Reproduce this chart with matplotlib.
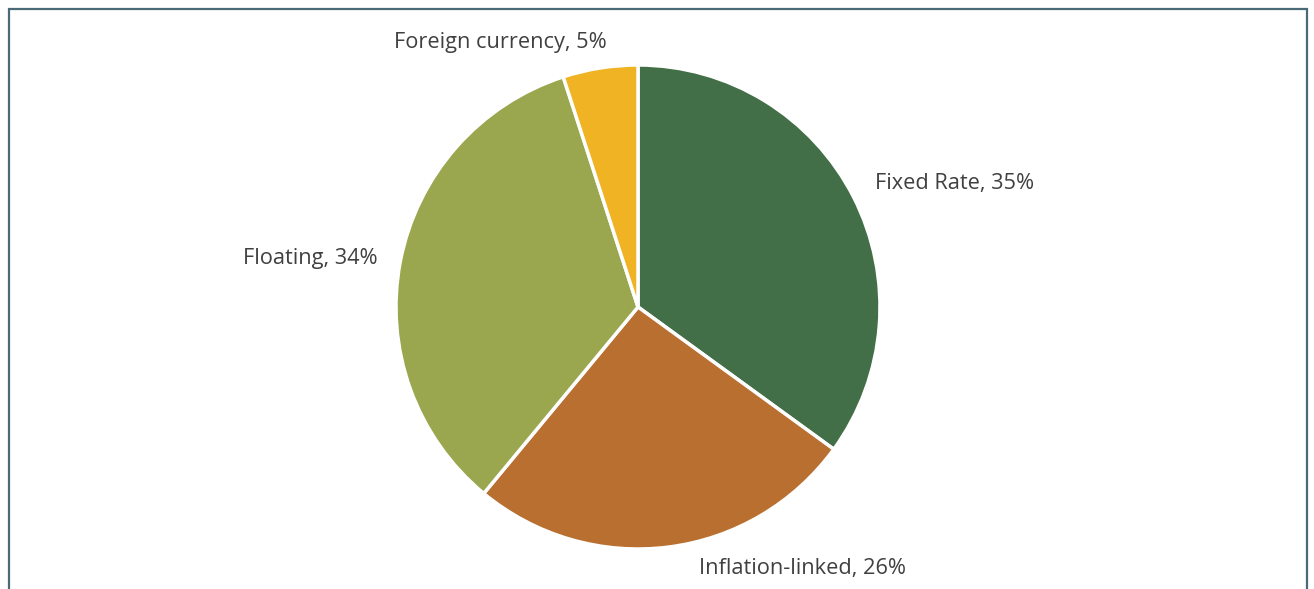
import matplotlib
matplotlib.use("Agg")
import matplotlib.pyplot as plt
from matplotlib.patches import Rectangle

categories = ["Fixed Rate", "Inflation-linked", "Floating", "Foreign currency"]
values = [35, 26, 34, 5]
colors = ["#436f48", "#b86f30", "#9ba74f", "#f0b323"]

plt.rcParams['font.family'] = ['Open Sans', 'DejaVu Sans']

W, H = 1314, 589
fig = plt.figure(figsize=(W / 100, H / 100), dpi=100)
fig.patch.set_facecolor("white")

cx, cy, r = 638, H - 307, 242
ax = fig.add_axes([(cx - r) / W, (cy - r) / H, 2 * r / W, 2 * r / H])
ax.pie(values, colors=colors, startangle=90, counterclock=False,
       wedgeprops=dict(edgecolor="white", linewidth=2.5), radius=1.0)
ax.set_xlim(-1, 1)
ax.set_ylim(-1, 1)
ax.set_aspect("auto")
ax.axis("off")

labels = [f"{c}, {v}%" for c, v in zip(categories, values)]
pos = [(0.979, 0.512, "left"), (0.68, -1.079, "center"),
       (-1.074, 0.202, "right"), (-0.57, 1.095, "center")]
for lab, (x, y, ha) in zip(labels, pos):
    ax.text(x, y, lab, ha=ha, va="center", fontsize=15.7, color="#404040",
            clip_on=False)

border = Rectangle((9 / W, -0.05), (1307 - 9) / W, (H - 9) / H + 0.05,
                   transform=fig.transFigure, fill=False,
                   edgecolor="#4a6a78", linewidth=1.6)
fig.patches.append(border)

fig.savefig("out.png", dpi=100)
